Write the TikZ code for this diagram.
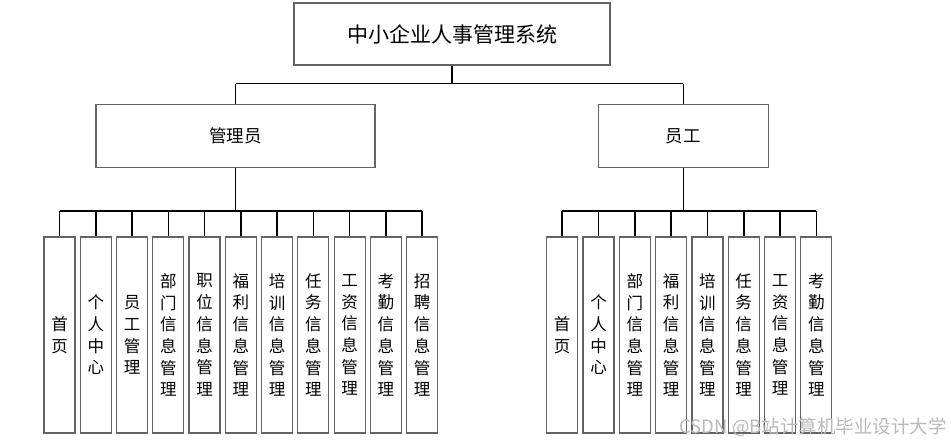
\documentclass[tikz,border=0pt]{standalone}
\usepackage{fontspec}
\usepackage{xcolor}
\usepackage{tikz}
\newfontfamily\cjk{Noto Sans CJK SC}
\definecolor{boxgray}{RGB}{100,100,100}
\definecolor{wmgray}{RGB}{185,185,185}

\begin{document}
\begin{tikzpicture}[
  x=1pt, y=-1pt,
  sysbox/.style={
    draw=boxgray, line width=1.2pt, fill=white, inner sep=0pt,
    minimum width=316pt, minimum height=62pt,
    font=\cjk\fontsize{21}{24}\selectfont
  },
  rolebox/.style={
    draw=boxgray, line width=1.2pt, fill=white, inner sep=0pt,
    minimum height=63pt, font=\cjk\fontsize{17.5}{20}\selectfont
  },
  leaf/.style={
    draw=boxgray, line width=1.2pt, fill=white, inner sep=0pt,
    minimum width=31pt, minimum height=196pt, align=center,
    font=\cjk\fontsize{16.5}{21.7}\selectfont
  },
  conn/.style={line width=1.6pt, black}
]
  \useasboundingbox (0,0) rectangle (951,445);

  \node[sysbox] (sys) at (452,34) {中小企业人事管理系统};
  \node[rolebox, minimum width=279pt] (admin) at (235.5,136) {管理员};
  \node[rolebox, minimum width=170pt] (staff) at (683.3,136) {员工};

  \coordinate (topbus) at (452,83.5);
  \coordinate (abus) at (235.5,211);
  \coordinate (sbus) at (683.3,211);

  % admin modules
  \foreach \t [count=\i] in {首\\页, 个\\人\\中\\心, 员\\工\\管\\理,
      部\\门\\信\\息\\管\\理, 职\\位\\信\\息\\管\\理, 福\\利\\信\\息\\管\\理,
      培\\训\\信\\息\\管\\理, 任\\务\\信\\息\\管\\理, 工\\资\\信\\息\\管\\理,
      考\\勤\\信\\息\\管\\理, 招\\聘\\信\\息\\管\\理}
    \node[leaf] (a\i) at ({59.5+(\i-1)*36.27},335) {\t};

  % staff modules
  \foreach \t [count=\i] in {首\\页, 个\\人\\中\\心, 部\\门\\信\\息\\管\\理,
      福\\利\\信\\息\\管\\理, 培\\训\\信\\息\\管\\理, 任\\务\\信\\息\\管\\理,
      工\\资\\信\\息\\管\\理, 考\\勤\\信\\息\\管\\理}
    \node[leaf] (s\i) at ({562.2+(\i-1)*36.3},335) {\t};

  % tree lines
  \draw[conn] (sys.south) -- (topbus);
  \draw[conn] (admin.north |- topbus) -- (staff.north |- topbus);
  \draw[conn] (admin.north |- topbus) -- (admin.north);
  \draw[conn] (staff.north |- topbus) -- (staff.north);

  \draw[conn] (admin.south) -- (abus);
  \draw[conn] (a1.north |- abus) -- (a11.north |- abus);
  \foreach \i in {1,...,11}
    \draw[conn] (a\i.north |- abus) -- (a\i.north);

  \draw[conn] (staff.south) -- (sbus);
  \draw[conn] (s1.north |- sbus) -- (s8.north |- sbus);
  \foreach \i in {1,...,8}
    \draw[conn] (s\i.north |- sbus) -- (s\i.north);

  \node[anchor=east, text=wmgray, inner sep=0pt,
    font=\cjk\fontsize{18.5}{22}\selectfont] (wmark) at (947,427) {CSDN @B站计算机毕业设计大学};
\end{tikzpicture}
\end{document}
